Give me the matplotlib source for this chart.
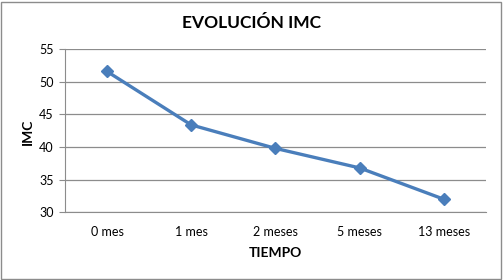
import matplotlib.pyplot as plt
from matplotlib.patches import Rectangle

# datos
meses = ["0 mes", "1 mes", "2 meses", "5 meses", "13 meses"]
imc = [51.6, 43.4, 39.8, 36.8, 32.0]
yticks = [30, 35, 40, 45, 50, 55]

plt.rcParams['font.family'] = ['Lato', 'DejaVu Sans']

fig = plt.figure(figsize=(5.03, 2.80), dpi=100)
ax = fig.add_axes([0.129, 0.242, 0.837, 0.582])

x = list(range(len(meses)))
ax.plot(x, imc, color="#4A7EBB", linewidth=2.4, marker="D", markersize=6,
        markeredgecolor="#4A7EBB", zorder=3)

ax.set_xlim(-0.5, len(meses) - 0.5)
ax.set_ylim(30, 55)
ax.set_yticks(yticks)
ax.set_xticks(x)
ax.set_xticklabels(meses)
ax.grid(axis="y", color="#8c8c8c", linewidth=0.9)
ax.set_axisbelow(True)

for s in ["top", "right"]:
    ax.spines[s].set_visible(False)
ax.spines["left"].set_color("#8c8c8c")
ax.spines["bottom"].set_color("#8c8c8c")
ax.tick_params(axis="y", length=4, color="#8c8c8c", labelsize=9, pad=4)
ax.tick_params(axis="x", length=0, labelsize=9, pad=10)

fig.text(0.5, 0.919, "EVOLUCIÓN IMC", ha="center", va="center",
         fontsize=12.5, fontweight="bold")
fig.text(0.548, 0.098, "TIEMPO", ha="center", va="center",
         fontsize=10, fontweight="bold")
fig.text(0.056, 0.53, "IMC", ha="center", va="center", rotation=90,
         fontsize=10, fontweight="bold")

# marco exterior
fig.patches.append(Rectangle((0.002, 0.004), 0.994, 0.99, transform=fig.transFigure,
                             fill=False, edgecolor="#8c8c8c", linewidth=1))

fig.savefig("out.png", dpi=100)
